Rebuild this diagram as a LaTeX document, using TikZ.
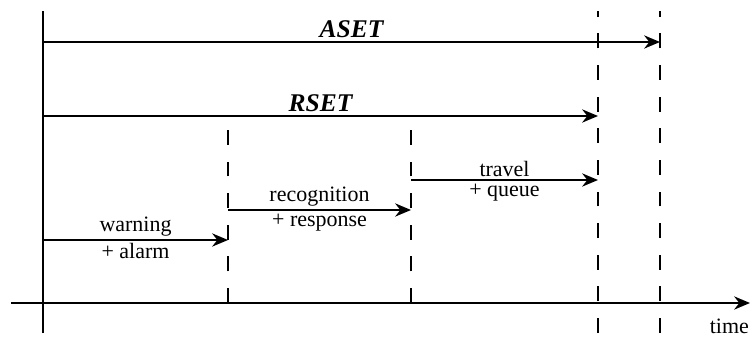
\documentclass[tikz,border=0pt]{standalone}
\usepackage{fontspec}
\setmainfont{Liberation Serif}
\usetikzlibrary{arrows.meta}
\tikzset{
  phase/.style={line width=1.25pt,-{Stealth[length=9pt,width=7.5pt]}},
  mark line/.style={line width=1.25pt,dash pattern=on 8.5pt off 9.5pt},
  lbl/.style={font=\fontsize{12.5}{14}\selectfont,inner sep=1.5pt},
  big/.style={font=\fontsize{14.5}{16}\selectfont\bfseries\itshape,inner sep=2pt}
}

\begin{document}
\begin{tikzpicture}[>=Stealth]
  \useasboundingbox (0,0) rectangle (15,6.72);
  % time marks
  \coordinate (t0) at (0.86,0.66);
  \coordinate (t1) at (4.56,0.66);
  \coordinate (t2) at (8.22,0.66);
  \coordinate (t3) at (11.96,0.66);
  \coordinate (t4) at (13.2,0.66);
  \coordinate (axL) at (0.22,0.66);
  \coordinate (axR) at (15,0.66);
  % axes
  \draw[line width=1.25pt] (t0) ++(0,-0.6) coordinate (t0b) -- ++(0,6.44) coordinate (t0t);
  \draw[phase] (axL) -- (axR) node[lbl,anchor=north east,inner sep=0pt,yshift=-8.5pt] (tlab) {time};
  % dashed marks
  \draw[mark line] (t1) -- ++(0,3.52) coordinate (t1t);
  \draw[mark line] (t2) -- ++(0,3.52) coordinate (t2t);
  \draw[mark line] (t3) ++(0,-0.6) -- ++(0,6.44) coordinate (t3t);
  \draw[mark line] (t4) ++(0,-0.6) -- ++(0,6.44) coordinate (t4t);
  % total times
  \draw[phase] (t0 |- 0,5.88) -- (t4 |- 0,5.88) node[big,midway,above] (aset) {ASET};
  \draw[phase] (t0 |- 0,4.4) -- (t3 |- 0,4.4) node[big,midway,above] (rset) {RSET};
  % phases
  \draw[phase] (t0 |- 0,1.92) -- (t1 |- 0,1.92)
    node[lbl,midway,above] (warn) {warning}
    node[lbl,midway,below] (alarm) {+ alarm};
  \draw[phase] (t1 |- 0,2.52) -- (t2 |- 0,2.52)
    node[lbl,midway,above] (recog) {recognition}
    node[lbl,midway,below] (resp) {+ response};
  \draw[phase] (t2 |- 0,3.12) -- (t3 |- 0,3.12)
    node[lbl,midway,above] (trav) {travel}
    node[lbl,midway,below] (queue) {+ queue};
\end{tikzpicture}
\end{document}
